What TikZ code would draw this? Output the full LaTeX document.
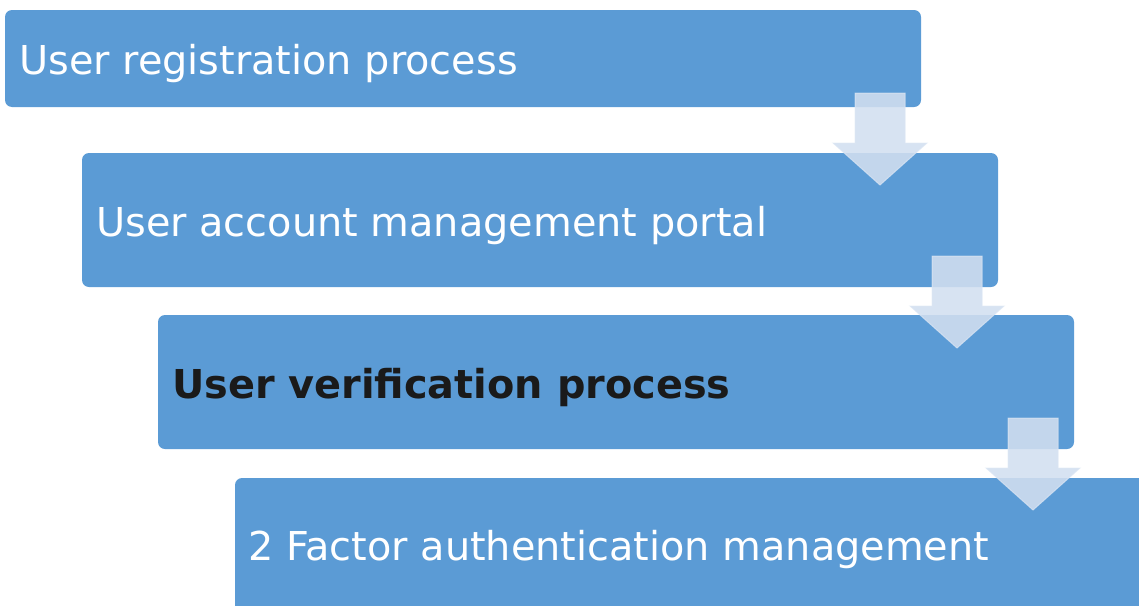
\documentclass[tikz,border=0pt]{standalone}
\usepackage{fontspec}
\setmainfont{DejaVu Sans}
\begin{document}
\begin{tikzpicture}[x=1pt,y=-1pt,
  stepbox/.style={fill=boxblue, rounded corners=7pt, draw=none},
  steptext/.style={anchor=base west, inner sep=0pt, text=white, font=\fontsize{39.8}{44}\selectfont},
  downarrow/.style={fill=arrowfill, fill opacity=0.88, draw=arrowedge, draw opacity=0.7, line width=1pt}]
\definecolor{boxblue}{RGB}{91,155,213}
\definecolor{arrowfill}{RGB}{210,223,240}
\definecolor{arrowedge}{RGB}{220,230,244}
\definecolor{darktext}{RGB}{26,26,26}
\useasboundingbox (0,0) rectangle (1139,605);
\begin{scope}
\clip (0,0) rectangle (1139,605);
\fill[stepbox] (5,10) rectangle (921,107);
\fill[stepbox] (82,153) rectangle (998,287);
\fill[stepbox] (158,315) rectangle (1074,449);
\fill[stepbox] (235,478) rectangle (1160,630);
\end{scope}
\node[steptext] (t1) at (19,74) {User registration process};
\node[steptext] (t2) at (96,236) {User account management portal};
\node[steptext, text=darktext, font=\fontsize{39.8}{44}\selectfont\bfseries] (t3) at (172,398) {User verification process};
\node[steptext] (t4) at (248,560) {2 Factor authentication management};
\foreach \x/\y in {880/93, 957/256, 1033/418}{
  \draw[downarrow] (\x-25,\y) -- (\x+25,\y) -- (\x+25,\y+50) -- (\x+47,\y+50) -- (\x,\y+92) -- (\x-47,\y+50) -- (\x-25,\y+50) -- cycle;
}
\end{tikzpicture}
\end{document}
